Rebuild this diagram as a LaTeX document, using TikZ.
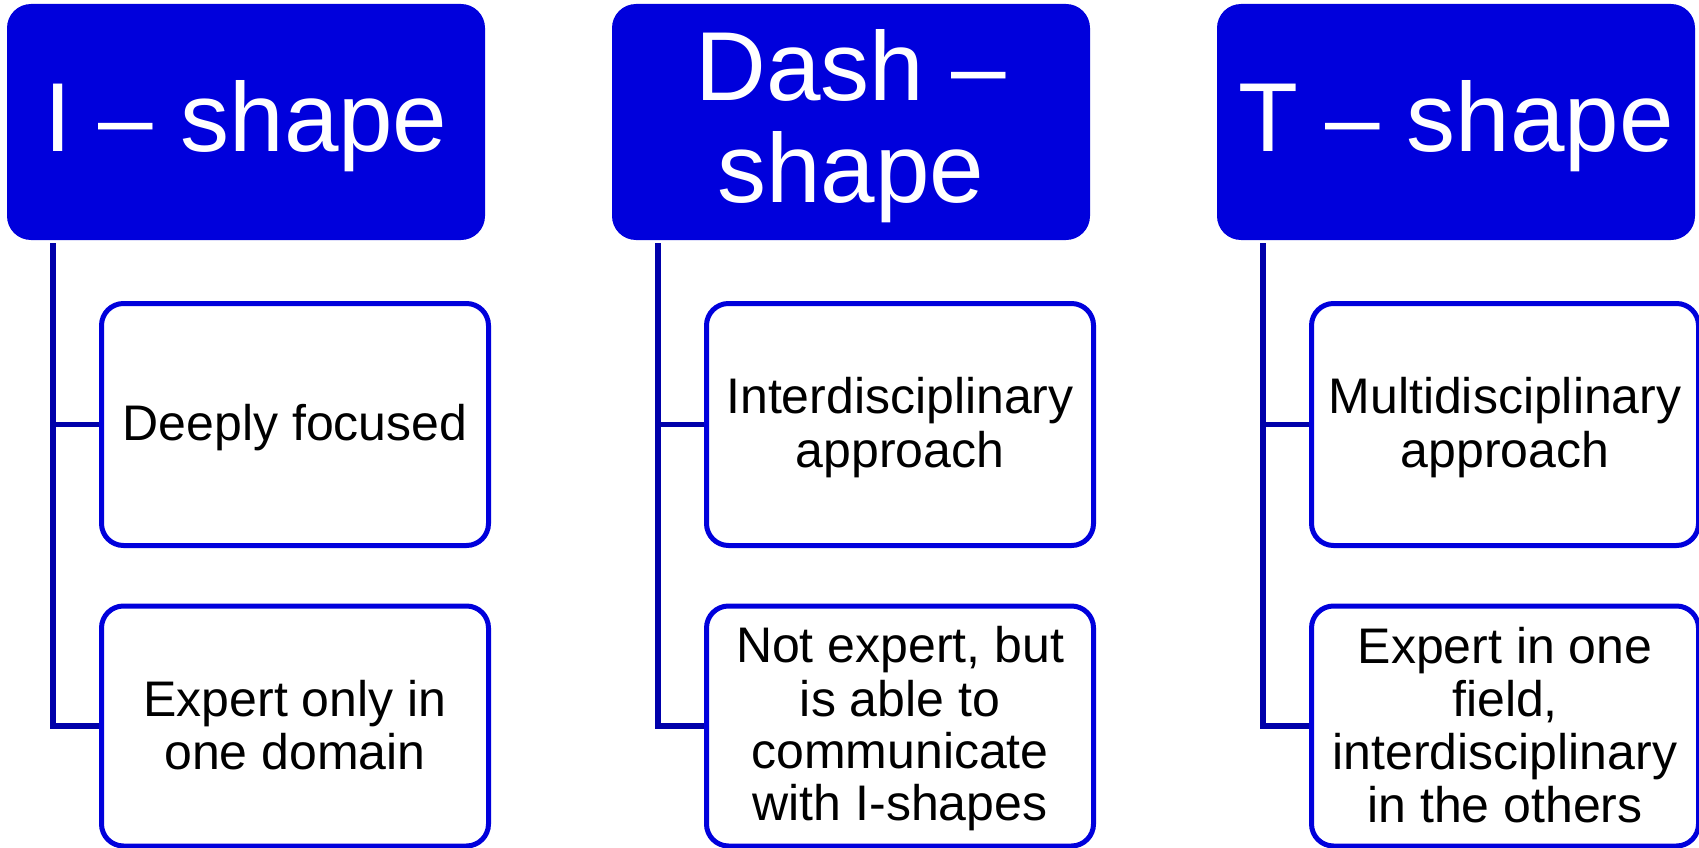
\documentclass[tikz,border=0pt]{standalone}
\usepackage{fontspec}
\setmainfont{Liberation Sans}
\definecolor{hdrblue}{RGB}{0,0,220}
\definecolor{lineblue}{RGB}{0,0,170}
\newcommand\mystrutH{\vrule width 0pt height 0.816em depth 0.184em\relax}
\newcommand\mystrutC{\vrule width 0pt height 0.84em depth 0.16em\relax}
\begin{document}
\begin{tikzpicture}[x=1pt,y=-1pt,
  header/.style={fill=hdrblue, draw=none, rounded corners=24pt,
    minimum width=478pt, minimum height=236pt, inner sep=0pt,
    text=white, font=\fontsize{98}{102}\selectfont, align=center},
  child/.style={draw=hdrblue, line width=5pt, fill=white, rounded corners=22pt,
    minimum width=387pt, inner sep=0pt, text=black,
    font=\fontsize{50}{52.3}\selectfont, align=center},
  conn/.style={draw=lineblue, line width=5.5pt}]
\useasboundingbox (0,0) rectangle (1699,848);

% headers
\node[header] (h1) at (246,122) {\mystrutH I – shape};
\node[header] (h2) at (851,122) {\mystrutH Dash –\\\mystrutH shape};
\node[header] (h3) at (1456,122) {\mystrutH T – shape};

% children
\node[child, minimum height=242pt] (c11) at (295,424.5) {\mystrutC Deeply focused};
\node[child, minimum height=240pt] (c12) at (295,726) {\mystrutC Expert only in\\\mystrutC one domain};
\node[child, minimum height=242pt] (c21) at (900,424.5) {\mystrutC Interdisciplinary\\\mystrutC approach};
\node[child, minimum height=240pt] (c22) at (900,726) {\mystrutC Not expert, but\\\mystrutC is able to\\\mystrutC communicate\\\mystrutC with I-shapes};
\node[child, minimum height=242pt] (c31) at (1505,424.5) {\mystrutC Multidisciplinary\\\mystrutC approach};
\node[child, minimum height=240pt] (c32) at (1505,726) {\mystrutC Expert in one\\\mystrutC field,\\\mystrutC interdisciplinary\\\mystrutC in the others};

% connectors
\draw[conn] ([xshift=46pt,yshift=-3pt]h1.south west) |- (c11.west);
\draw[conn] ([xshift=46pt,yshift=-3pt]h1.south west) |- (c12.west);
\draw[conn] ([xshift=46pt,yshift=-3pt]h2.south west) |- (c21.west);
\draw[conn] ([xshift=46pt,yshift=-3pt]h2.south west) |- (c22.west);
\draw[conn] ([xshift=46pt,yshift=-3pt]h3.south west) |- (c31.west);
\draw[conn] ([xshift=46pt,yshift=-3pt]h3.south west) |- (c32.west);
\end{tikzpicture}
\end{document}
